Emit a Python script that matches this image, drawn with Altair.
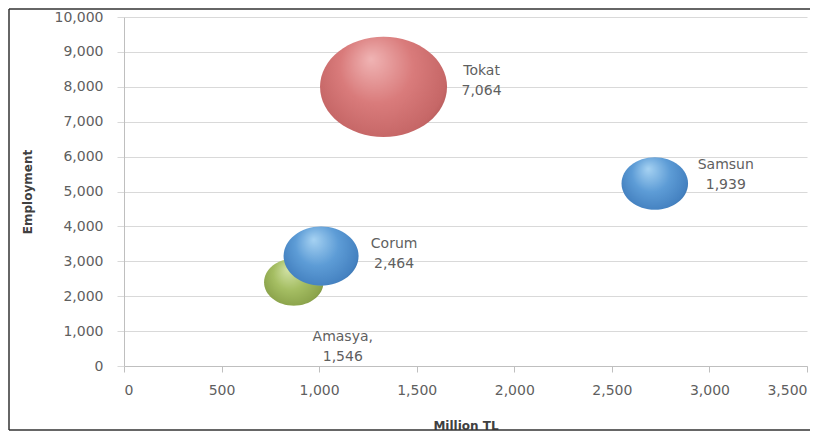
import altair as alt
import pandas as pd

# ---- data ----
cities = ["Amasya", "Corum", "Tokat", "Samsun"]
label_names = ["Amasya,", "Corum", "Tokat", "Samsun"]
million_tl = [870, 1010, 1330, 2720]
employment = [2400, 3150, 8000, 5230]
bubble_value = [1546, 2464, 7064, 1939]
x_ticks = [0, 500, 1000, 1500, 2000, 2500, 3000, 3500]
y_ticks = [0, 1000, 2000, 3000, 4000, 5000, 6000, 7000, 8000, 9000, 10000]

df = pd.DataFrame({
    "city": cities,
    "name": label_names,
    "tl": million_tl,
    "emp": employment,
    "val": bubble_value,
})

W, H = 683, 349
FONT = "DejaVu Sans"

ellipse = "M-1,0A1,0.79,0,1,1,1,0A1,0.79,0,1,1,-1,0Z"

palettes = {
    "Tokat": ["#f0b4b4", "#d97b7b", "#c66767", "#9a4a4a"],
    "Samsun": ["#a6d2f2", "#5d9cd6", "#4582c1", "#2c5d90"],
    "Corum": ["#a6d2f2", "#5d9cd6", "#4582c1", "#2c5d90"],
    "Amasya": ["#d2e2a6", "#a5be63", "#8ca44c", "#687b36"],
}


def grad(cols):
    return alt.Gradient(
        gradient="radial",
        x1=0.4, y1=0.28, r1=0.0,
        x2=0.5, y2=0.42, r2=0.64,
        stops=[
            alt.GradientStop(offset=0.0, color=cols[0]),
            alt.GradientStop(offset=0.45, color=cols[1]),
            alt.GradientStop(offset=0.8, color=cols[2]),
            alt.GradientStop(offset=1.0, color=cols[3]),
        ],
    )


xscale = alt.Scale(domain=[0, 3500], nice=False, zero=True)
yscale = alt.Scale(domain=[0, 10000], nice=False, zero=True)
sscale = alt.Scale(domain=[0, 7064], range=[0, 16130], zero=True)

x_axis = alt.Axis(
    values=x_ticks, format=",.0f", grid=False, labelOverlap=False,
    domainColor="#bfbfbf", tickColor="#bfbfbf", tickSize=6,
    labelFont=FONT, labelFontSize=14, labelColor="#5f5f5f", labelPadding=11,
    title="Million TL", titleFont=FONT, titleFontSize=12, titleFontWeight="bold",
    titleColor="#404040", titleX=W / 2, titleY=59, titleBaseline="middle",
    titleAlign="center",
)
y_axis = alt.Axis(
    values=y_ticks, format=",.0f", grid=True, gridColor="#d9d9d9",
    labelOverlap=False,
    domainColor="#bfbfbf", tickColor="#d9d9d9", tickSize=7,
    labelFont=FONT, labelFontSize=14, labelColor="#5f5f5f", labelPadding=14,
    title="Employment", titleFont=FONT, titleFontSize=12, titleFontWeight="bold",
    titleColor="#404040", titleX=-97, titleY=H / 2, titleAngle=-90,
    titleBaseline="middle", titleAlign="center",
)

X = alt.X("tl:Q", scale=xscale, axis=x_axis)
Y = alt.Y("emp:Q", scale=yscale, axis=y_axis)

base = alt.Chart(df)

layers = []
for c in ["Amasya", "Corum", "Tokat", "Samsun"]:
    layers.append(
        base.transform_filter(alt.datum.city == c)
        .mark_point(shape=ellipse, filled=True, fill=grad(palettes[c]),
                    strokeWidth=0, opacity=1)
        .encode(
            x=X,
            y=Y,
            size=alt.Size("val:Q", scale=sscale, legend=None),
        )
    )

label_offsets = {
    "Tokat": (98, -16),
    "Samsun": (71, -18),
    "Corum": (73, -12),
    "Amasya": (49, 55),
}
for c, (dx, dy) in label_offsets.items():
    layers.append(
        base.transform_filter(alt.datum.city == c)
        .transform_calculate(label="datum.name + '\\n' + format(datum.val, ',')")
        .mark_text(font=FONT, fontSize=14, color="#5f5f5f", align="center",
                   baseline="middle", lineBreak="\n", lineHeight=20,
                   dx=dx, dy=dy)
        .encode(x=X, y=Y, text="label:N")
    )

# outer frame (top, left, bottom edges; the right edge lies outside the picture)
frame_src = alt.Chart(alt.Data(values=[{"f": 1}]))
FL, FT, FB, FR = -115, -8, H + 64, W + 300
frame_top = frame_src.mark_rule(color="#333333", strokeWidth=1.5).encode(
    x=alt.value(FL), x2=alt.value(FR), y=alt.value(FT))
frame_left = frame_src.mark_rule(color="#333333", strokeWidth=1.5).encode(
    x=alt.value(FL), y=alt.value(FT), y2=alt.value(FB))
frame_bottom = frame_src.mark_rule(color="#333333", strokeWidth=1.5).encode(
    x=alt.value(FL), x2=alt.value(FR), y=alt.value(FB))

chart = alt.layer(*layers, frame_top, frame_left, frame_bottom).properties(
    width=W, height=H,
    autosize=alt.AutoSizeParams(type="none"),
    padding={"left": 116, "top": 9, "right": 3, "bottom": 67},
    background="white",
).configure_view(stroke=None)

chart.save("out.html", embed_options={"renderer": "svg", "actions": False})
